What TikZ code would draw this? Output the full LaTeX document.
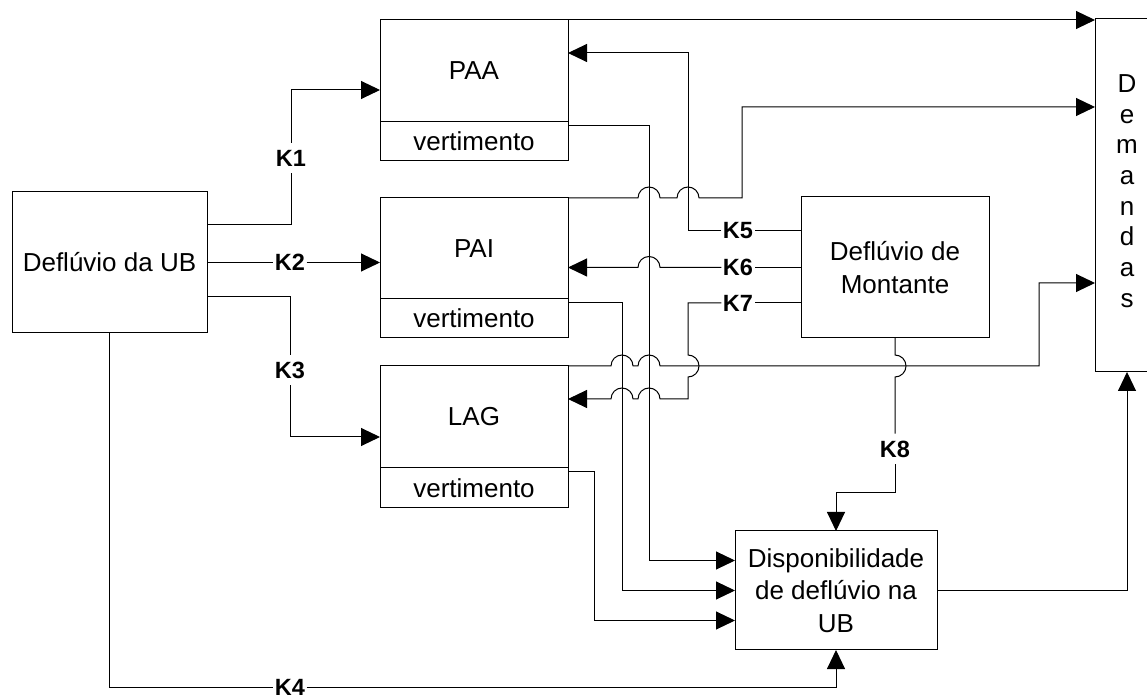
\documentclass[tikz,border=0pt]{standalone}
\usepackage{fontspec}
\setmainfont{Liberation Sans}
\usetikzlibrary{arrows.meta,calc}
\begin{document}
\begin{tikzpicture}[x=1pt,y=1pt,
  txt/.style={font=\fontsize{26}{32.5}\selectfont},
  box/.style={draw, line width=1pt, inner sep=0pt, outer sep=0pt,
    minimum width=188pt, txt, align=center},
  wire/.style={line width=1pt},
  arr/.style={wire, -{Triangle[length=19pt,width=18pt]}},
  klab/.style={font=\bfseries\fontsize{23.5}{28}\selectfont,
    inner xsep=1.5pt, inner ysep=7pt, outer sep=0pt}
]
\useasboundingbox (0,0) rectangle (1147,698);
\clip (0,0) rectangle (1147,698);

% ---- blocks ----
\node[box, minimum width=195pt, minimum height=141pt] (dub) at (109.5,435.5) {Deflúvio da UB};

\node[box, minimum height=102pt] (paa)  at (474,627)   {PAA};
\node[box, minimum height=39pt]  (paav) at (474,556.5) {vertimento};
\node[box, minimum height=101pt] (pai)  at (474,449.5) {PAI};
\node[box, minimum height=39pt]  (paiv) at (474,379.5) {vertimento};
\node[box, minimum height=102pt] (lag)  at (474,281)   {LAG};
\node[box, minimum height=40pt]  (lagv) at (474,210)   {vertimento};

\node[box, minimum height=141pt] (mont) at (895,430.5) {Deflúvio de\\Montante};
\node[box, minimum width=202pt, minimum height=119pt] (disp) at (836,107.5)
  {Disponibilidade\\de deflúvio na\\UB};

\node[box, minimum width=64pt, minimum height=353pt] (dem) at (1127,502.5) {};
\node[font=\fontsize{26}{30.7}\selectfont, align=center, inner sep=0pt] (demtxt)
  at (1127,507) {D\\e\\m\\a\\n\\d\\a\\s};

% ---- coefficient labels ----
\node[klab] (k1) at (291,540)   {K1};
\node[klab] (k2) at (290,435.5) {K2};
\node[klab] (k3) at (290,328)   {K3};
\node[klab, inner ysep=1pt] (k4) at (290,11) {K4};
\node[klab] (k5) at (738,467)   {K5};
\node[klab] (k6) at (738,430.5) {K6};
\node[klab] (k7) at (738,395)   {K7};
\node[klab] (k8) at (895,249)   {K8};

% ---- routing channels ----
\coordinate (xA) at (649,0);    % PAA spill channel
\coordinate (xB) at (622,0);    % PAI spill channel
\coordinate (xC) at (594,0);    % LAG spill channel
\coordinate (x5) at (688,645);  % K5 / K7 channel
\coordinate (xP) at (742,591);  % PAI to demand bend
\coordinate (xL) at (1039,415); % LAG to demand bend
\coordinate (dA) at ([yshift=30pt]disp.west);
\coordinate (dC) at ([yshift=-30pt]disp.west);
\coordinate (k7in) at ([yshift=18pt]lag.east);

% ---- local runoff split K1..K4 ----
\draw[wire] ([yshift=37.5pt]dub.east) -| (k1.south);
\draw[arr] (k1.north) |- ([yshift=-19pt]paa.west);
\draw[wire] (dub.east) -- (k2.west);
\draw[arr] (k2.east) -- (k2.east -| pai.west);
\draw[wire] ([yshift=-34.5pt]dub.east) -| (k3.north);
\draw[arr] (k3.south) |- ([yshift=-20pt]lag.west);
\draw[wire] (dub.south) |- (k4.west);
\draw[arr] (k4.east) -| (disp.south);

% ---- upstream runoff split K5..K8 ----
\draw[wire] ([yshift=36.5pt]mont.west) -- (k5.east);
\draw[arr] (k5.west) -| (x5) -- (x5 -| paa.east);

\draw[wire] (mont.west) -- (k6.east);
\draw[arr] (k6.west) -- ($(xA |- k6.west)+(11,0)$)
  arc[start angle=0,end angle=180,radius=11pt] -- (k6.west -| pai.east);

\draw[wire] ([yshift=-35.5pt]mont.west) -- (k7.east);
\draw[arr] (k7.west) -| ($(x5 |- lag.north east)+(0,11)$)
  arc[start angle=90,end angle=-90,radius=11pt] -- (x5 |- k7in)
  -- ($(xA |- k7in)+(11,0)$) arc[start angle=0,end angle=180,radius=11pt]
  -- ($(xB |- k7in)+(11,0)$) arc[start angle=0,end angle=180,radius=11pt]
  -- (k7in);

\draw[wire] (mont.south) -- ($(mont.south |- lag.north east)+(0,11)$)
  arc[start angle=90,end angle=-90,radius=11pt] -- (k8.north);
\draw[arr] (k8.south) |- ([yshift=38pt]disp.north) -- (disp.north);

% ---- reservoir supplies to demands ----
\draw[arr] (paa.north east) -- (paa.north east -| dem.west);
\draw[arr] (pai.north east)
  -- ($(xA |- pai.north east)-(11,0)$) arc[start angle=180,end angle=0,radius=11pt]
  -- ($(x5 |- pai.north east)-(11,0)$) arc[start angle=180,end angle=0,radius=11pt]
  -| (xP) -- (xP -| dem.west);
\draw[arr] (lag.north east)
  -- ($(xB |- lag.north east)-(11,0)$) arc[start angle=180,end angle=0,radius=11pt]
  -- ($(xA |- lag.north east)-(11,0)$) arc[start angle=180,end angle=0,radius=11pt]
  -| (xL) -- (xL -| dem.west);

% ---- spills to availability ----
\draw[arr] ([yshift=-3.5pt]paav.north east) -| (xA |- dA) -- (dA);
\draw[arr] ([yshift=-3.5pt]paiv.north east) -| (xB |- disp.west) -- (disp.west);
\draw[arr] ([yshift=-3.5pt]lagv.north east) -| (xC |- dC) -- (dC);

% ---- availability to demands ----
\draw[arr] (disp.east) -| (dem.south);
\end{tikzpicture}
\end{document}
